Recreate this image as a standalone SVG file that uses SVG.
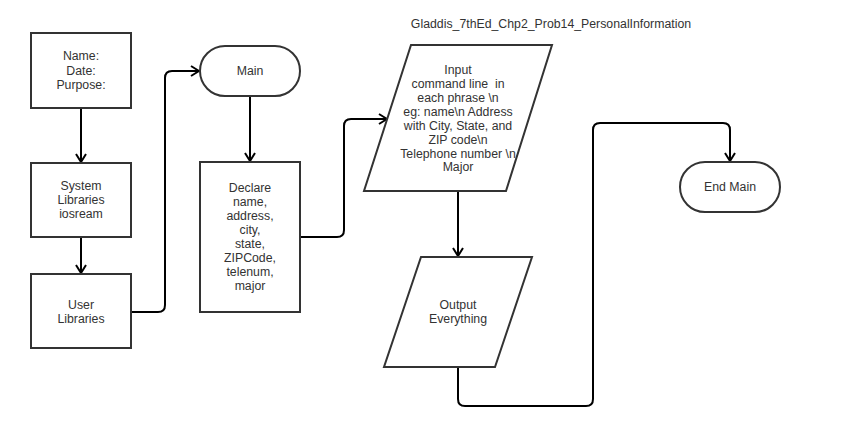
<svg xmlns="http://www.w3.org/2000/svg" width="852" height="431" viewBox="0 0 852 431">
<defs>
<marker id="arr" viewBox="0 0 10 12" refX="9" refY="6" markerWidth="10" markerHeight="12" markerUnits="userSpaceOnUse" orient="auto">
<path d="M1,1 L9,6 L1,11" fill="none" stroke="#000" stroke-width="2"/>
</marker>
<style>
.s{fill:#fff;stroke:#333;stroke-width:2}
.t{font-family:"Liberation Sans",Arial,sans-serif;font-size:12.3px;fill:#333;text-anchor:middle}
.c{fill:none;stroke:#000;stroke-width:2;stroke-linejoin:round}
</style>
</defs>
<rect width="852" height="431" fill="#fff"/>
<text class="t" x="551" y="28">Gladdis_7thEd_Chp2_Prob14_PersonalInformation</text>
<g id="connectors">
<path class="c" d="M81,108 L81,162" marker-end="url(#arr)"/>
<path class="c" d="M81,237 L81,273" marker-end="url(#arr)"/>
<path class="c" d="M131,312 L158,312 Q165,312 165,305 L165,78 Q165,71 172,71 L199,71" marker-end="url(#arr)"/>
<path class="c" d="M250,96 L250,161" marker-end="url(#arr)"/>
<path class="c" d="M300,237 L337,237 Q344,237 344,230 L344,126 Q344,119 351,119 L387,119" marker-end="url(#arr)"/>
<path class="c" d="M458,191 L458,256" marker-end="url(#arr)"/>
<path class="c" d="M458,367 L458,399 Q458,406 465,406 L586,406 Q593,406 593,399 L593,130 Q593,123 600,123 L723,123 Q730,123 730,130 L730,161" marker-end="url(#arr)"/>
</g>
<g id="n-header">
<rect class="s" x="31" y="33" width="100" height="75"/>
<text class="t" x="81" y="60">Name:</text>
<text class="t" x="81" y="75">Date:</text>
<text class="t" x="81" y="89">Purpose:</text>
</g>
<g id="n-syslib">
<rect class="s" x="31" y="163" width="100" height="74"/>
<text class="t" x="81" y="190">System</text>
<text class="t" x="81" y="204">Libraries</text>
<text class="t" x="81" y="218">iosream</text>
</g>
<g id="n-userlib">
<rect class="s" x="31" y="274" width="100" height="74"/>
<text class="t" x="81" y="309">User</text>
<text class="t" x="81" y="323">Libraries</text>
</g>
<g id="n-main">
<rect class="s" x="200" y="46" width="100" height="50" rx="25" ry="25"/>
<text class="t" x="250" y="75">Main</text>
</g>
<g id="n-declare">
<rect class="s" x="200" y="162" width="100" height="150"/>
<text class="t" x="250" y="192">Declare</text>
<text class="t" x="250" y="206">name,</text>
<text class="t" x="250" y="220">address,</text>
<text class="t" x="250" y="234">city,</text>
<text class="t" x="250" y="248">state,</text>
<text class="t" x="250" y="262">ZIPCode,</text>
<text class="t" x="250" y="276">telenum,</text>
<text class="t" x="250" y="290">major</text>
</g>
<g id="n-input">
<polygon class="s" points="411,45 552,45 506,191 364,191"/>
<text class="t" x="458" y="74">Input</text>
<text class="t" x="458" y="88" style="white-space:pre">command line  in</text>
<text class="t" x="458" y="102">each phrase \n</text>
<text class="t" x="458" y="116">eg: name\n Address</text>
<text class="t" x="458" y="130">with City, State, and</text>
<text class="t" x="458" y="144">ZIP code\n</text>
<text class="t" x="458" y="158">Telephone number \n</text>
<text class="t" x="458" y="171">Major</text>
</g>
<g id="n-output">
<polygon class="s" points="421,257 532,257 495,367 384,367"/>
<text class="t" x="458" y="309">Output</text>
<text class="t" x="458" y="323">Everything</text>
</g>
<g id="n-end">
<rect class="s" x="680" y="162" width="100" height="50" rx="25" ry="25"/>
<text class="t" x="730" y="191">End Main</text>
</g>
</svg>
